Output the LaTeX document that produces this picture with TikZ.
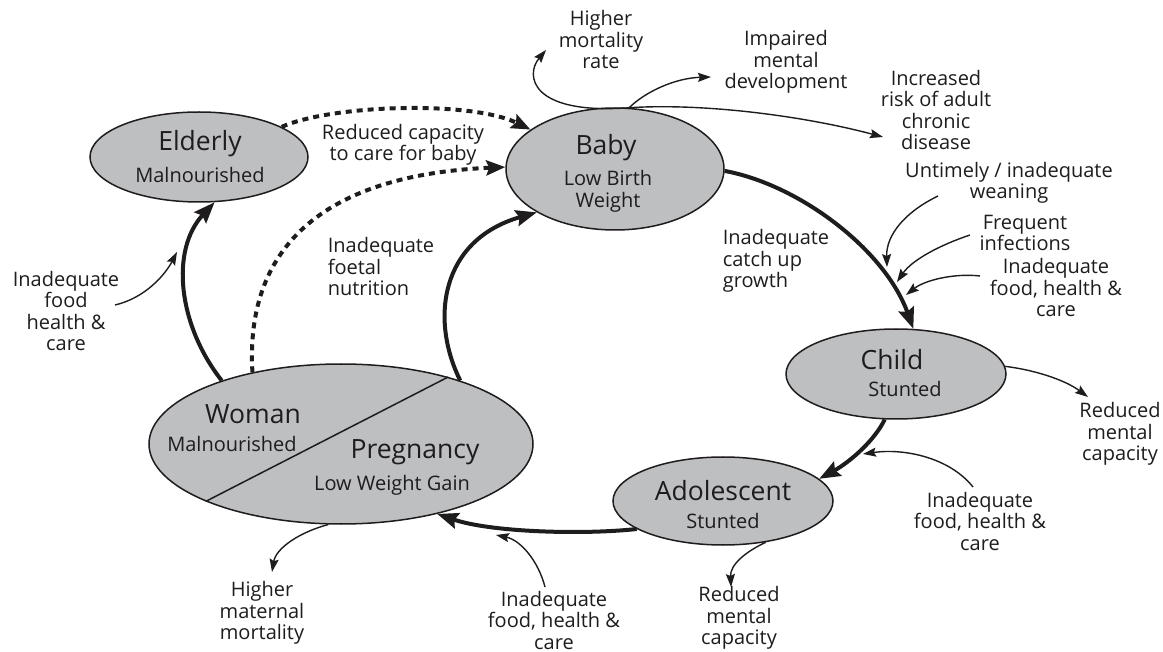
\documentclass[tikz,border=0pt]{standalone}
\usepackage{fontspec}
\setmainfont{Open Sans}
\usetikzlibrary{shapes.geometric,arrows.meta}
\definecolor{ellfill}{RGB}{190,191,193}
\definecolor{ink}{RGB}{30,28,29}
\begin{document}
\begin{tikzpicture}[x=1pt,y=-1pt,
  state/.style={ellipse, draw=ink, fill=ellfill, line width=1.5pt, inner sep=0pt},
  ttl/.style={font=\fontsize{26.5}{29}\selectfont, text=ink, inner sep=0pt},
  sub/.style={font=\fontsize{20}{22}\selectfont, text=ink, inner sep=0pt, align=center},
  lbl/.style={font=\fontsize{20}{21.5}\selectfont, text=ink, align=center, inner sep=0pt},
  lbll/.style={lbl, align=left},
  mainarrow/.style={line width=4pt, draw=ink, -{Stealth[length=21pt,width=16pt,inset=3pt]}},
  dotarrow/.style={line width=4pt, draw=ink, dash pattern=on 6pt off 5pt, -{Stealth[length=19pt,width=15pt,inset=3pt]}},
  thinarrow/.style={line width=1.4pt, draw=ink, -{Stealth[length=13pt,width=9pt,inset=2pt]}}
]
\useasboundingbox (0,0) rectangle (1163,652);

% ---- state ellipses ----
\node[state, minimum width=218pt, minimum height=90pt] (elderly) at (199,157) {};
\node[ttl] (elderlyT) at (200,144) {Elderly};
\node[sub] (elderlyS) at (200,175) {Malnourished};

\node[state, minimum width=218pt, minimum height=122pt] (baby) at (615,169) {};
\node[ttl] (babyT) at (606,148) {Baby};
\node[sub] (babyS) at (608,191) {Low Birth\\Weight};

\node[state, minimum width=220pt, minimum height=90pt] (child) at (896,374) {};
\node[ttl] (childT) at (892,360) {Child};
\node[sub] (childS) at (905,389) {Stunted};

\node[state, minimum width=220pt, minimum height=88pt] (adol) at (723,501) {};
\node[ttl] (adolT) at (723,491) {Adolescent};
\node[sub] (adolS) at (723,521) {Stunted};

\node[state, minimum width=384pt, minimum height=160pt] (woman) at (341,444) {};
\draw[line width=1.5pt, ink] (woman.203.6) -- (woman.32.05);
\node[ttl] (womanT) at (253,414) {Woman};
\node[sub] (womanS) at (232,444) {Malnourished};
\node[ttl] (pregT) at (415,452) {Pregnancy};
\node[sub] (pregS) at (392,485) {Low Weight Gain};

% ---- text labels ----
\node[lbl] (lMort) at (601,40) {Higher\\mortality\\rate};
\node[lbl] (lImp) at (786,62) {Impaired\\mental\\development};
\node[lbl] (lRisk) at (936,110) {Increased\\risk of adult\\chronic\\disease};
\node[lbl] (lWean) at (1009,183) {Untimely / inadequate\\weaning};
\node[lbl] (lInf) at (1025,233) {Frequent\\infections};
\node[lbl] (lFoodTR) at (1056,288) {Inadequate\\food, health \&\\care};
\node[lbll] (lCatch) at (776,261) {Inadequate\\catch up\\growth};
\node[lbl] (lCare) at (403,145) {Reduced capacity\\to care for baby};
\node[lbll] (lFoetal) at (381,267) {Inadequate\\foetal\\nutrition};
\node[lbl] (lFoodL) at (66,311) {Inadequate\\food\\health \&\\care};
\node[lbl] (lRedR) at (1120,434) {Reduced\\mental\\capacity};
\node[lbl] (lFoodR) at (980,521) {Inadequate\\food, health \&\\care};
\node[lbl] (lRedB) at (739,618) {Reduced\\mental\\capacity};
\node[lbl] (lFoodB) at (554,620) {Inadequate\\food, health \&\\care};
\node[lbl] (lMat) at (262,613) {Higher\\maternal\\mortality};

% ---- free ends of arrows ----
\coordinate (sFoodL) at (115,305);
\coordinate (sWean) at (938,196);
\coordinate (sInf) at (970,235);
\coordinate (sFoodTR) at (980,276);
\coordinate (sFoodR) at (973,487);
\coordinate (sFoodB) at (545,587);
\coordinate (tMort) at (546,50);
\coordinate (tImp) at (711,77);
\coordinate (tRisk) at (883,137);
\coordinate (tWean) at (887,267);
\coordinate (tInf) at (897,282);
\coordinate (tFoodTR) at (906,295);
\coordinate (tRedR) at (1088,397);
\coordinate (tFoodR) at (863,454);
\coordinate (tRedB) at (731,587);
\coordinate (tFoodB) at (496,535);
\coordinate (tMat) at (272,572);
\coordinate (tFoodL) at (177,252);

% ---- main cycle ----
\draw[mainarrow] (woman.152.9) .. controls (178,325) and (170,250) .. (elderly.-71.6);
\draw[mainarrow] (woman.28.5) .. controls (430,320) and (440,240) .. (baby.209.7);
\draw[mainarrow] (baby.-1.6) .. controls (800,185) and (885,250) .. (child.69.7);
\draw[mainarrow] (child.256.3) .. controls (875,440) and (850,462) .. (adol.13);
\draw[mainarrow] (adol.198.4) .. controls (580,535) and (490,532) .. (woman.-36.9);

% ---- dotted ----
\draw[dotarrow] (elderly.20.3) .. controls (330,105) and (470,100) .. (baby.155.5);
\draw[dotarrow] (woman.141) .. controls (245,250) and (320,175) .. (baby.179.4);

% ---- thin arrows ----
\draw[thinarrow] (baby.77.1) .. controls (530,115) and (525,75) .. (tMort);
\draw[thinarrow] (baby.77.1) .. controls (645,92) and (675,78) .. (tImp);
\draw[thinarrow] (baby.77.1) .. controls (700,103) and (800,115) .. (tRisk);
\draw[thinarrow] (sWean) .. controls (905,212) and (886,235) .. (tWean);
\draw[thinarrow] (sInf) .. controls (940,245) and (912,260) .. (tInf);
\draw[thinarrow] (sFoodTR) .. controls (955,273) and (925,280) .. (tFoodTR);
\draw[thinarrow] (child.4.7) .. controls (1035,370) and (1065,380) .. (tRedR);
\draw[thinarrow] (sFoodR) .. controls (950,458) and (905,448) .. (tFoodR);
\draw[thinarrow] (adol.-44.4) .. controls (745,552) and (730,565) .. (tRedB);
\draw[thinarrow] (sFoodB) .. controls (538,560) and (520,540) .. (tFoodB);
\draw[thinarrow] (woman.-99.1) .. controls (300,532) and (276,548) .. (tMat);
\draw[thinarrow] (sFoodL) .. controls (145,298) and (165,275) .. (tFoodL);
\end{tikzpicture}
\end{document}
